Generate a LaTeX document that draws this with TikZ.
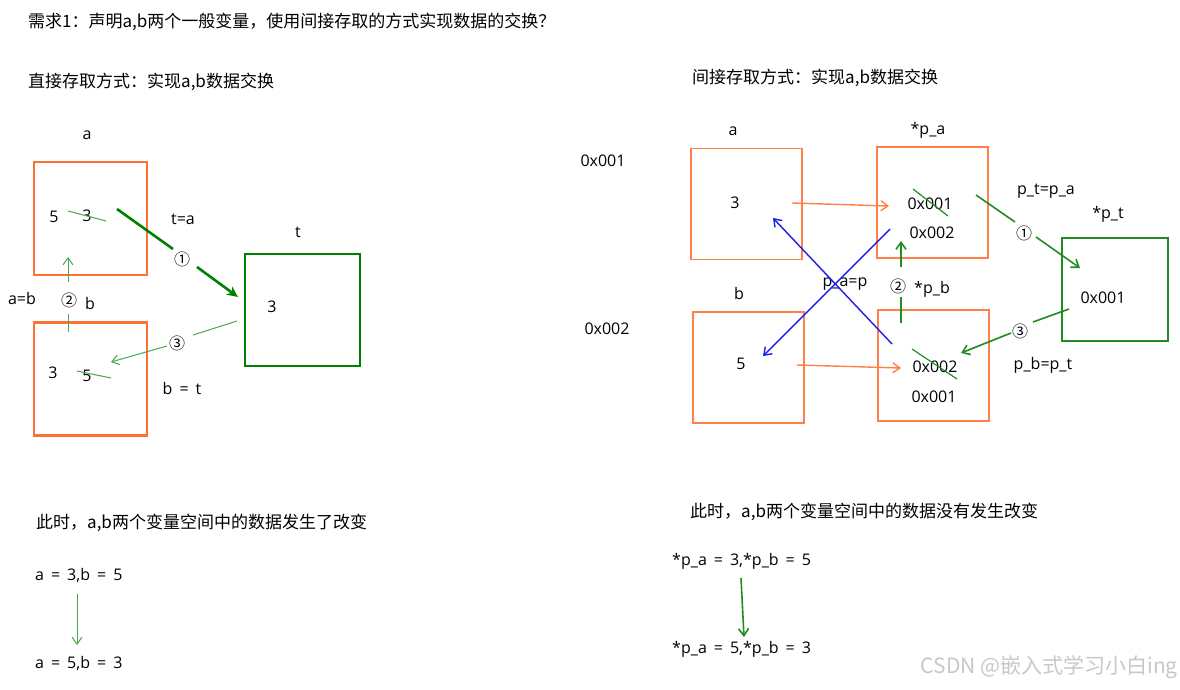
\documentclass[tikz,border=0pt]{standalone}
\usepackage{fontspec}
\setmainfont{Noto Sans CJK SC}
\newfontfamily\cjkf{Noto Sans CJK SC}
\newfontfamily\latf{Open Sans}
\usetikzlibrary{arrows.meta}
\definecolor{orng}{RGB}{255,112,52}
\definecolor{orngl}{RGB}{255,128,72}
\definecolor{dgreen}{RGB}{0,128,0}
\definecolor{mgreen}{RGB}{34,140,34}
\definecolor{lgreen}{RGB}{70,170,70}
\definecolor{pblue}{RGB}{30,30,235}
\definecolor{wm}{RGB}{200,200,200}
\newcommand{\wsp}{\hspace{7pt}}
\tikzset{
  every node/.style={font=\latf\fontsize{16}{19}\selectfont, inner sep=0pt, text=black},
  cjk/.style={font=\cjkf\fontsize{17}{20}\selectfont},
  circ/.style={font=\cjkf\fontsize{16}{19}\selectfont},
  obox/.style={draw=orng, line width=2.6pt, minimum width=113pt, minimum height=113pt},
  obox2/.style={draw=orngl, line width=1.8pt, minimum width=111pt, minimum height=111pt},
  gbox/.style={draw=dgreen, line width=2.6pt, minimum width=115pt, minimum height=112pt},
  gbox2/.style={draw=mgreen, line width=1.8pt, minimum width=106pt, minimum height=103pt},
  thickarrow/.style={draw=dgreen, line width=2.6pt},
  thinarrow/.style={draw=lgreen, line width=1pt},
  midarrow/.style={draw=mgreen, line width=1.6pt},
  orarrow/.style={draw=orngl, line width=1.4pt},
  blarrow/.style={draw=pblue, line width=1.4pt},
  openhead/.style={-{Straight Barb[length=7pt,width=10pt]}},
  strike/.style={draw=mgreen, line width=1.2pt},
  strikel/.style={draw=lgreen, line width=1pt},
}
\begin{document}
\begin{tikzpicture}[x=1pt,y=-1pt]
\useasboundingbox[fill=white] (0,0) rectangle (1180,690);

% headers
\node[cjk,anchor=west] (h1) at (28,22) {需求1：声明a,b两个一般变量，使用间接存取的方式实现数据的交换？};
\node[cjk,anchor=west] (h2) at (28,82) {直接存取方式：实现a,b数据交换};
\node[cjk,anchor=west] (h3) at (692,78) {间接存取方式：实现a,b数据交换};

% ---------------- left diagram ----------------
\node[obox] (A) at (90.5,218.5) {};
\node (Alab) at (87,135) {a};
\node (A5) at (54,217) {5};
\node (A3) at (87,216) {3};
\draw[strikel] (68,211) -- (106,221);

\node[obox] (B) at (90.5,379) {};
\node (Blab) at (90,303) {b};
\node (B3) at (53,373) {3};
\node (B5) at (87,376) {5};
\draw[strikel] (77,371) -- (111,378);

\node[gbox] (T) at (302.5,310) {};
\node (Tlab) at (298,232) {t};
\node (T3) at (272,307) {3};

\node (ta) at (183,219) {t=a};
\node (ab) at (22,298) {a=b};
\node (bt) at (182,388) {b\wsp=\wsp t};

% arrow 1 (left)
\coordinate (l1s) at (117,209);
\coordinate (l1m1) at (173,249);
\node[circ] (l1c) at (182,259) {①};
\coordinate (l1m2) at (197,267);
\coordinate (l1e) at (238,297);
\draw[thickarrow] (l1s) -- (l1m1);
\draw[thickarrow,-{Stealth[length=11pt,width=10pt]}] (l1m2) -- (l1e);

% arrow 2 (left)
\coordinate (l2s) at (68,332);
\coordinate (l2m1) at (68,314);
\node[circ] (l2c) at (69,300) {②};
\coordinate (l2m2) at (68,282);
\coordinate (l2e) at (68,257);
\draw[thinarrow] (l2s) -- (l2m1);
\draw[thinarrow,openhead] (l2m2) -- (l2e);

% arrow 3 (left)
\coordinate (l3s) at (237,321);
\coordinate (l3m1) at (193,335);
\node[circ] (l3c) at (177,343) {③};
\coordinate (l3m2) at (167,346);
\coordinate (l3e) at (111,362);
\draw[thinarrow] (l3s) -- (l3m1);
\draw[thinarrow,openhead] (l3m2) -- (l3e);

% bottom left
\node[cjk,anchor=west] (bl1) at (36,523) {此时，a,b两个变量空间中的数据发生了改变};
\node[anchor=west] (bl2) at (35,575) {a\wsp=\wsp3,b\wsp=\wsp5};
\node[anchor=west] (bl3) at (35,663) {a\wsp=\wsp5,b\wsp=\wsp3};
\coordinate (bls) at (77,594);
\coordinate (ble) at (77,645);
\draw[thinarrow,openhead] (bls) -- (ble);

% ---------------- right diagram ----------------
\node (ad1) at (603,161) {0x001};
\node (ad2) at (607,329) {0x002};

\node[obox2] (RA) at (746.5,204) {};
\node (RAlab) at (733,131) {a};
\node (RA3) at (735,203) {3};

\node[obox2] (PA) at (932.5,202.5) {};
\node (PAlab) at (928,130) {*p\_a};
\node (PA1) at (930,204) {0x001};
\node (PA2) at (932,233) {0x002};
\draw[strike] (913,189) -- (948,216);

\node[obox2] (RB) at (748.5,367.5) {};
\node (RBlab) at (739,293) {b};
\node (RB5) at (741,364) {5};

\node[obox2] (PB) at (933.5,365.5) {};
\node (PBlab) at (932,289) {*p\_b};
\node (PB1) at (935,367) {0x002};
\node (PB2) at (934,397) {0x001};
\draw[strike] (912,349) -- (957,379);

\node[gbox2] (PT) at (1115,289.5) {};
\node (PTlab) at (1108,214) {*p\_t};
\node (PT1) at (1103,298) {0x001};

\node (pta) at (1046,191) {p\_t=p\_a};
\node (pbt) at (1043,365) {p\_b=p\_t};
\node (pap) at (845,284) {p\_a=p};

% orange arrows
\coordinate (o1s) at (792,203);
\coordinate (o1e) at (889,206);
\draw[orarrow,openhead] (o1s) -- (o1e);
\coordinate (o2s) at (797,365);
\coordinate (o2e) at (901,368);
\draw[orarrow,openhead] (o2s) -- (o2e);

% blue cross
\coordinate (b1s) at (890,229);
\coordinate (b1e) at (763,356);
\draw[blarrow,openhead] (b1s) -- (b1e);
\coordinate (b2s) at (892,344);
\coordinate (b2e) at (773,218);
\draw[blarrow,openhead] (b2s) -- (b2e);

% arrow 1 (right)
\coordinate (r1s) at (976,195);
\coordinate (r1m1) at (1015,222);
\node[circ] (r1c) at (1024,233) {①};
\coordinate (r1m2) at (1036,237);
\coordinate (r1e) at (1080,268);
\draw[midarrow] (r1s) -- (r1m1);
\draw[midarrow,openhead] (r1m2) -- (r1e);

% arrow 2 (right)
\coordinate (r2s) at (901,323);
\coordinate (r2m1) at (901,297);
\node[circ] (r2c) at (898,286) {②};
\coordinate (r2m2) at (901,267);
\coordinate (r2e) at (901,241);
\draw[midarrow] (r2s) -- (r2m1);
\draw[midarrow,openhead] (r2m2) -- (r2e);

% arrow 3 (right)
\coordinate (r3s) at (1069,309);
\coordinate (r3m1) at (1033,322);
\node[circ] (r3c) at (1020,331) {③};
\coordinate (r3m2) at (1011,333);
\coordinate (r3e) at (961,353);
\draw[midarrow] (r3s) -- (r3m1);
\draw[midarrow,openhead] (r3m2) -- (r3e);

% bottom right
\node[cjk,anchor=west] (br1) at (690,512) {此时，a,b两个变量空间中的数据没有发生改变};
\node[anchor=west] (br2) at (672,561) {*p\_a\wsp=\wsp3,*p\_b\wsp=\wsp5};
\node[anchor=west] (br3) at (672,649) {*p\_a\wsp=\wsp5,*p\_b\wsp=\wsp3};
\coordinate (brs) at (741,578);
\coordinate (bre) at (744,637);
\draw[midarrow,openhead] (brs) -- (bre);

\node[anchor=east, text=wm, font=\cjkf\fontsize{21}{24}\selectfont] (wmk) at (1178,667) {CSDN @嵌入式学习小白ing};
\end{tikzpicture}
\end{document}
